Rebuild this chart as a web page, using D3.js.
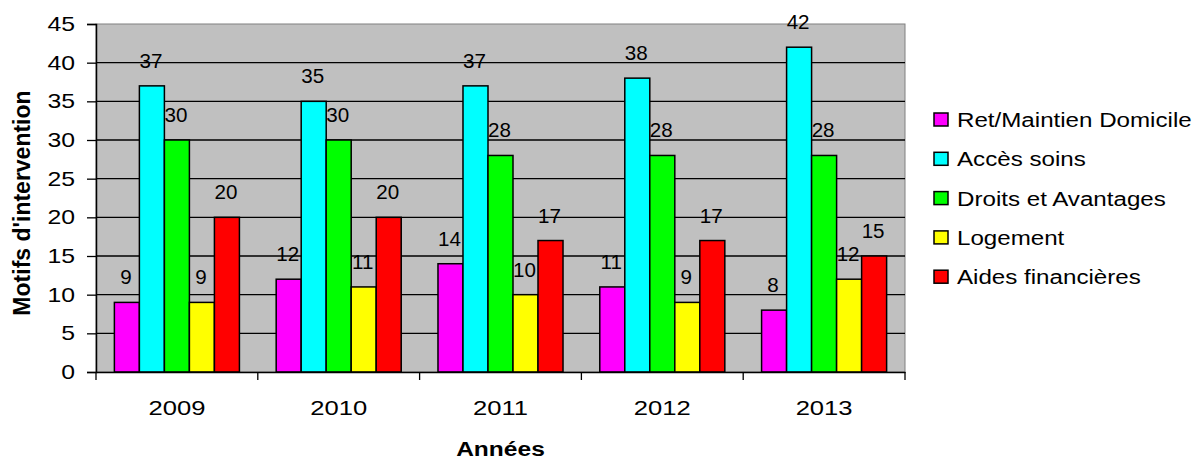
<!DOCTYPE html>
<html>
<head>
<meta charset="utf-8">
<script src="https://cdn.jsdelivr.net/npm/d3@7"></script>
<style>
  html, body { margin: 0; padding: 0; background: #fff; }
  svg { display: block; font-family: Arial, "Liberation Sans", sans-serif; }
</style>
</head>
<body>
<svg id="chart" width="1197" height="461"></svg>
<script>
// Intervention reasons per year
const years = ["2009", "2010", "2011", "2012", "2013"];
const seriesNames = ["Ret/Maintien Domicile", "Accès soins", "Droits et Avantages", "Logement", "Aides financières"];
const seriesColors = ["#ff00ff", "#00ffff", "#00ff00", "#ffff00", "#ff0000"];
const retMaintien = [9, 12, 14, 11, 8];
const accesSoins = [37, 35, 37, 38, 42];
const droitsAvantages = [30, 30, 28, 28, 28];
const logement = [9, 11, 10, 9, 12];
const aidesFinancieres = [20, 20, 17, 17, 15];
const yTicks = [0, 5, 10, 15, 20, 25, 30, 35, 40, 45];

const series = [retMaintien, accesSoins, droitsAvantages, logement, aidesFinancieres];

const svg = d3.select("#chart");
const plot = { left: 96, top: 24, right: 905, bottom: 372 };

const x0 = d3.scaleBand().domain(years).range([plot.left, plot.right]).paddingInner(0).paddingOuter(0);
const groupWidth = x0.bandwidth() * (5 / 6.47);
const x1 = d3.scaleBand().domain(d3.range(seriesNames.length)).range([0, groupWidth]);
const y = d3.scaleLinear().domain([0, 45]).range([plot.bottom, plot.top]);

// Text drawn with a horizontal widening factor
function wideText(sel, x, yPos, sx) {
  return sel.attr("transform", (d, i) => {
    const tx = typeof x === "function" ? x(d, i) : x;
    const ty = typeof yPos === "function" ? yPos(d, i) : yPos;
    return `translate(${tx},${ty}) scale(${sx},1)`;
  });
}

// Plot background
svg.append("rect")
  .attr("x", plot.left).attr("y", plot.top)
  .attr("width", plot.right - plot.left).attr("height", plot.bottom - plot.top)
  .attr("fill", "#c0c0c0")
  .attr("stroke", "#808080").attr("stroke-width", 1);

// Horizontal grid lines
svg.append("g")
  .selectAll("line")
  .data(yTicks.filter(t => t > 0 && t < 45))
  .join("line")
  .attr("x1", plot.left).attr("x2", plot.right)
  .attr("y1", d => y(d)).attr("y2", d => y(d))
  .attr("stroke", "#000").attr("stroke-width", 1.3);

// Bars
const groups = svg.append("g")
  .selectAll("g")
  .data(years)
  .join("g")
  .attr("transform", d => `translate(${x0(d) + (x0.bandwidth() - groupWidth) / 2},0)`);

groups.selectAll("rect")
  .data((yr, i) => series.map((s, k) => ({ k, v: s[i] })))
  .join("rect")
  .attr("x", d => x1(d.k))
  .attr("y", d => y(d.v))
  .attr("width", x1.bandwidth())
  .attr("height", d => y(0) - y(d.v))
  .attr("fill", d => seriesColors[d.k])
  .attr("stroke", "#000").attr("stroke-width", 1.5);

// Value labels
groups.selectAll("text")
  .data((yr, i) => series.map((s, k) => ({ k, v: s[i] })))
  .join("text")
  .attr("text-anchor", "middle")
  .attr("font-size", 20)
  .attr("fill", "#000")
  .text(d => d.v)
  .call(wideText, d => x1(d.k) + x1.bandwidth() / 2 - 1, d => y(d.v) - 18, 1.03);

// Y axis
const yAxis = svg.append("g")
  .attr("transform", `translate(${plot.left},0)`)
  .call(d3.axisLeft(y).tickValues(yTicks).tickSize(9).tickFormat(""));
yAxis.select(".domain").attr("stroke", "#000").attr("stroke-width", 1.5);
yAxis.selectAll(".tick line").attr("stroke", "#000").attr("stroke-width", 1.3);

svg.append("g")
  .selectAll("text")
  .data(yTicks)
  .join("text")
  .attr("text-anchor", "end")
  .attr("font-size", 20)
  .attr("fill", "#000")
  .text(d => d)
  .call(wideText, 75, d => y(d) + 7, 1.24);

// X axis
const xAxis = svg.append("g")
  .attr("transform", `translate(0,${plot.bottom})`)
  .call(d3.axisBottom(x0).tickSize(0).tickFormat(""));
xAxis.select(".domain").attr("stroke", "#000").attr("stroke-width", 1.5);

svg.append("g")
  .selectAll("text")
  .data(years)
  .join("text")
  .attr("text-anchor", "middle")
  .attr("font-size", 21)
  .attr("fill", "#000")
  .text(d => d)
  .call(wideText, d => x0(d) + x0.bandwidth() / 2, 415, 1.22);

// Category boundary ticks
svg.append("g")
  .selectAll("line")
  .data(d3.range(years.length + 1))
  .join("line")
  .attr("x1", i => plot.left + i * x0.bandwidth())
  .attr("x2", i => plot.left + i * x0.bandwidth())
  .attr("y1", plot.bottom).attr("y2", plot.bottom + 8)
  .attr("stroke", "#000").attr("stroke-width", 1.3);

// Axis titles
svg.append("text")
  .attr("transform", `translate(30,${(plot.top + plot.bottom) / 2 + 5}) rotate(-90)`)
  .attr("text-anchor", "middle")
  .attr("font-size", 23).attr("font-weight", "bold")
  .text("Motifs d'intervention");

svg.append("text")
  .attr("text-anchor", "middle")
  .attr("font-size", 21).attr("font-weight", "bold")
  .text("Années")
  .call(wideText, (plot.left + plot.right) / 2, 456, 1.17);

// Legend
const legend = svg.append("g").attr("transform", "translate(934,113)");
const rows = legend.selectAll("g")
  .data(seriesNames)
  .join("g")
  .attr("transform", (d, i) => `translate(0,${i * 39.3})`);
rows.append("rect")
  .attr("width", 14).attr("height", 13)
  .attr("fill", (d, i) => seriesColors[i])
  .attr("stroke", "#000").attr("stroke-width", 1.5);
rows.append("text")
  .attr("font-size", 21)
  .attr("fill", "#000")
  .text(d => d)
  .call(wideText, 23, 14, 1.15);
</script>
</body>
</html>
